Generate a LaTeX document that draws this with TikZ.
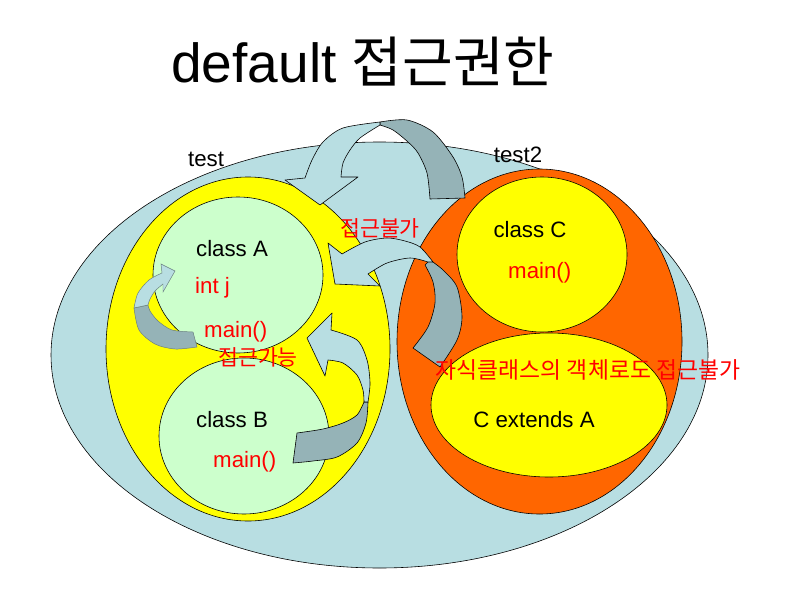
\documentclass[tikz,border=0pt]{standalone}
\usepackage{fontspec}
\setmainfont{Liberation Sans}
\newfontfamily\kr{Noto Sans CJK KR}
\usepackage{tikz}
\definecolor{pkgblue}{HTML}{B8DEE2}
\definecolor{pkgyellow}{HTML}{FFFF00}
\definecolor{pkgorange}{HTML}{FF6600}
\definecolor{clsgreen}{HTML}{CCFFCC}
\definecolor{backteal}{HTML}{95B3B7}
\definecolor{labred}{HTML}{FF0000}
\tikzset{
  pkg/.style={draw=black,line width=0.5pt},
  front/.style={fill=pkgblue,draw=black,line width=0.5pt,line join=round},
  back/.style={fill=backteal,draw=black,line width=0.5pt,line join=round},
  softfront/.style={fill=pkgblue,draw=backteal!70!black,line width=0.4pt},
  softback/.style={fill=backteal,draw=backteal!70!black,line width=0.4pt},
  headline/.style={font=\fontsize{47}{52}\selectfont,inner sep=0},
  lbl/.style={font=\fontsize{19}{22}\selectfont,inner sep=0},
  redlbl/.style={lbl,text=labred},
  krlbl/.style={font=\kr\fontsize{18.5}{21}\selectfont,text=labred,inner sep=0}
}
\begin{document}
\begin{tikzpicture}[x=0.03cm,y=-0.03cm]
  \useasboundingbox (0,0) rectangle (797,596);
  % Packages
  \filldraw[pkg,fill=pkgblue] (379.5,355) ellipse [x radius=328.5, y radius=213];
  \filldraw[pkg,fill=pkgyellow] (248,349) ellipse [x radius=142, y radius=172];
  \filldraw[pkg,fill=pkgorange] (539.5,341.5) ellipse [x radius=142.5, y radius=172.5];
  % Classes
  \foreach \cx/\cy/\rx/\ry/\col in {238/275/85/78/clsgreen, 244/436/85/78/clsgreen,
      542/254.5/85/77.5/pkgyellow, 549/405/118/72/pkgyellow}
    \filldraw[pkg,fill=\col] (\cx,\cy) ellipse [x radius=\rx, y radius=\ry];
  % Top arrow: test2 -> test
  \filldraw[back] (465,198) -- (430,199)
    -- plot[smooth] coordinates {(430,199) (427,173) (418,153) (408,142) (393,130) (380,125)}
    -- plot[smooth] coordinates {(380,122) (407,120) (433,132) (453,157) (462,177) (465,198)} -- cycle;
  \filldraw[front] (305,178) -- (285,180) -- (320,205) -- (358,177) -- (341,177)
    -- plot[smooth] coordinates {(341,177) (343,163) (350,150) (360,138) (380,125)}
    -- plot[smooth] coordinates {(380,122) (343,128) (323,142) (312,160) (305,178)} -- cycle;
  % Middle arrow: test2 -> class A
  \filldraw[back] (440,367) -- (413,348)
    -- plot[smooth] coordinates {(413,348) (428,327) (435,303) (433,282) (425,265)}
    -- plot[smooth] coordinates {(430,260) (443,270) (457,287) (462,317) (457,340) (440,367)} -- cycle;
  \filldraw[front] (342,254) -- (328,243) -- (335,284) -- (380,286) -- (368,274)
    -- plot[smooth] coordinates {(368,274) (387,263) (410,258) (428,262)}
    -- plot[smooth] coordinates {(433,262) (420,247) (405,241) (387,238) (365,242) (342,254)} -- cycle;
  % Lower arrow: class B -> class A
  \filldraw[back] (293,463) -- (297,433)
    -- plot[smooth] coordinates {(297,433) (323,429) (343,423) (357,415) (364,402)}
    -- plot[smooth] coordinates {(368,402) (366,423) (357,443) (337,457) (313,461) (293,463)} -- cycle;
  \filldraw[front] (331,330) -- (332,313) -- (307,338) -- (325,376) -- (328,360)
    -- plot[smooth] coordinates {(328,360) (343,363) (357,375) (363,390) (364,402)}
    -- plot[smooth] coordinates {(368,402) (370,383) (367,360) (357,340) (331,330)} -- cycle;
  % Small arrow inside class A
  \filldraw[softback] (197,347) -- (193,332)
    -- plot[smooth] coordinates {(193,332) (172,330) (158,321) (150,311) (148,305)}
    -- plot[smooth] coordinates {(134,308) (139,330) (155,344) (175,349) (197,347)} -- cycle;
  \filldraw[softfront] (162,273) -- (161,264) -- (175,271) -- (163,292) -- (163,284)
    -- plot[smooth] coordinates {(163,284) (155,291) (150,299) (148,305)}
    -- plot[smooth] coordinates {(134,308) (138,293) (149,280) (162,273)} -- cycle;
  % Labels
  \node[headline,anchor=base west] (title) at (171,83) {default {\kr 접근권한}};
  \node[lbl,anchor=base] (test) at (206,167) {test};
  \node[lbl,anchor=base] (test2) at (518,162) {test2};
  \node[lbl,anchor=base] (classA) at (232,256) {class A};
  \node[redlbl,anchor=base west] (intj) at (195,293) {int j};
  \node[redlbl,anchor=base west] (mainA) at (204,337) {main()};
  \node[krlbl] (okA) at (258,357) {접근가능};
  \node[lbl,anchor=base] (classB) at (232,427) {class B};
  \node[redlbl,anchor=base west] (mainB) at (213,467) {main()};
  \node[krlbl] (ngC) at (380,228) {접근불가};
  \node[lbl,anchor=base] (classC) at (530,237) {class C};
  \node[redlbl,anchor=base west] (mainC) at (508,278) {main()};
  \node[krlbl,font=\kr\fontsize{19.5}{22}\selectfont] (ngSub) at (588,370) {자식클래스의 객체로도 접근불가};
  \node[lbl,anchor=base] (ext) at (534,427) {C extends A};
\end{tikzpicture}
\end{document}
